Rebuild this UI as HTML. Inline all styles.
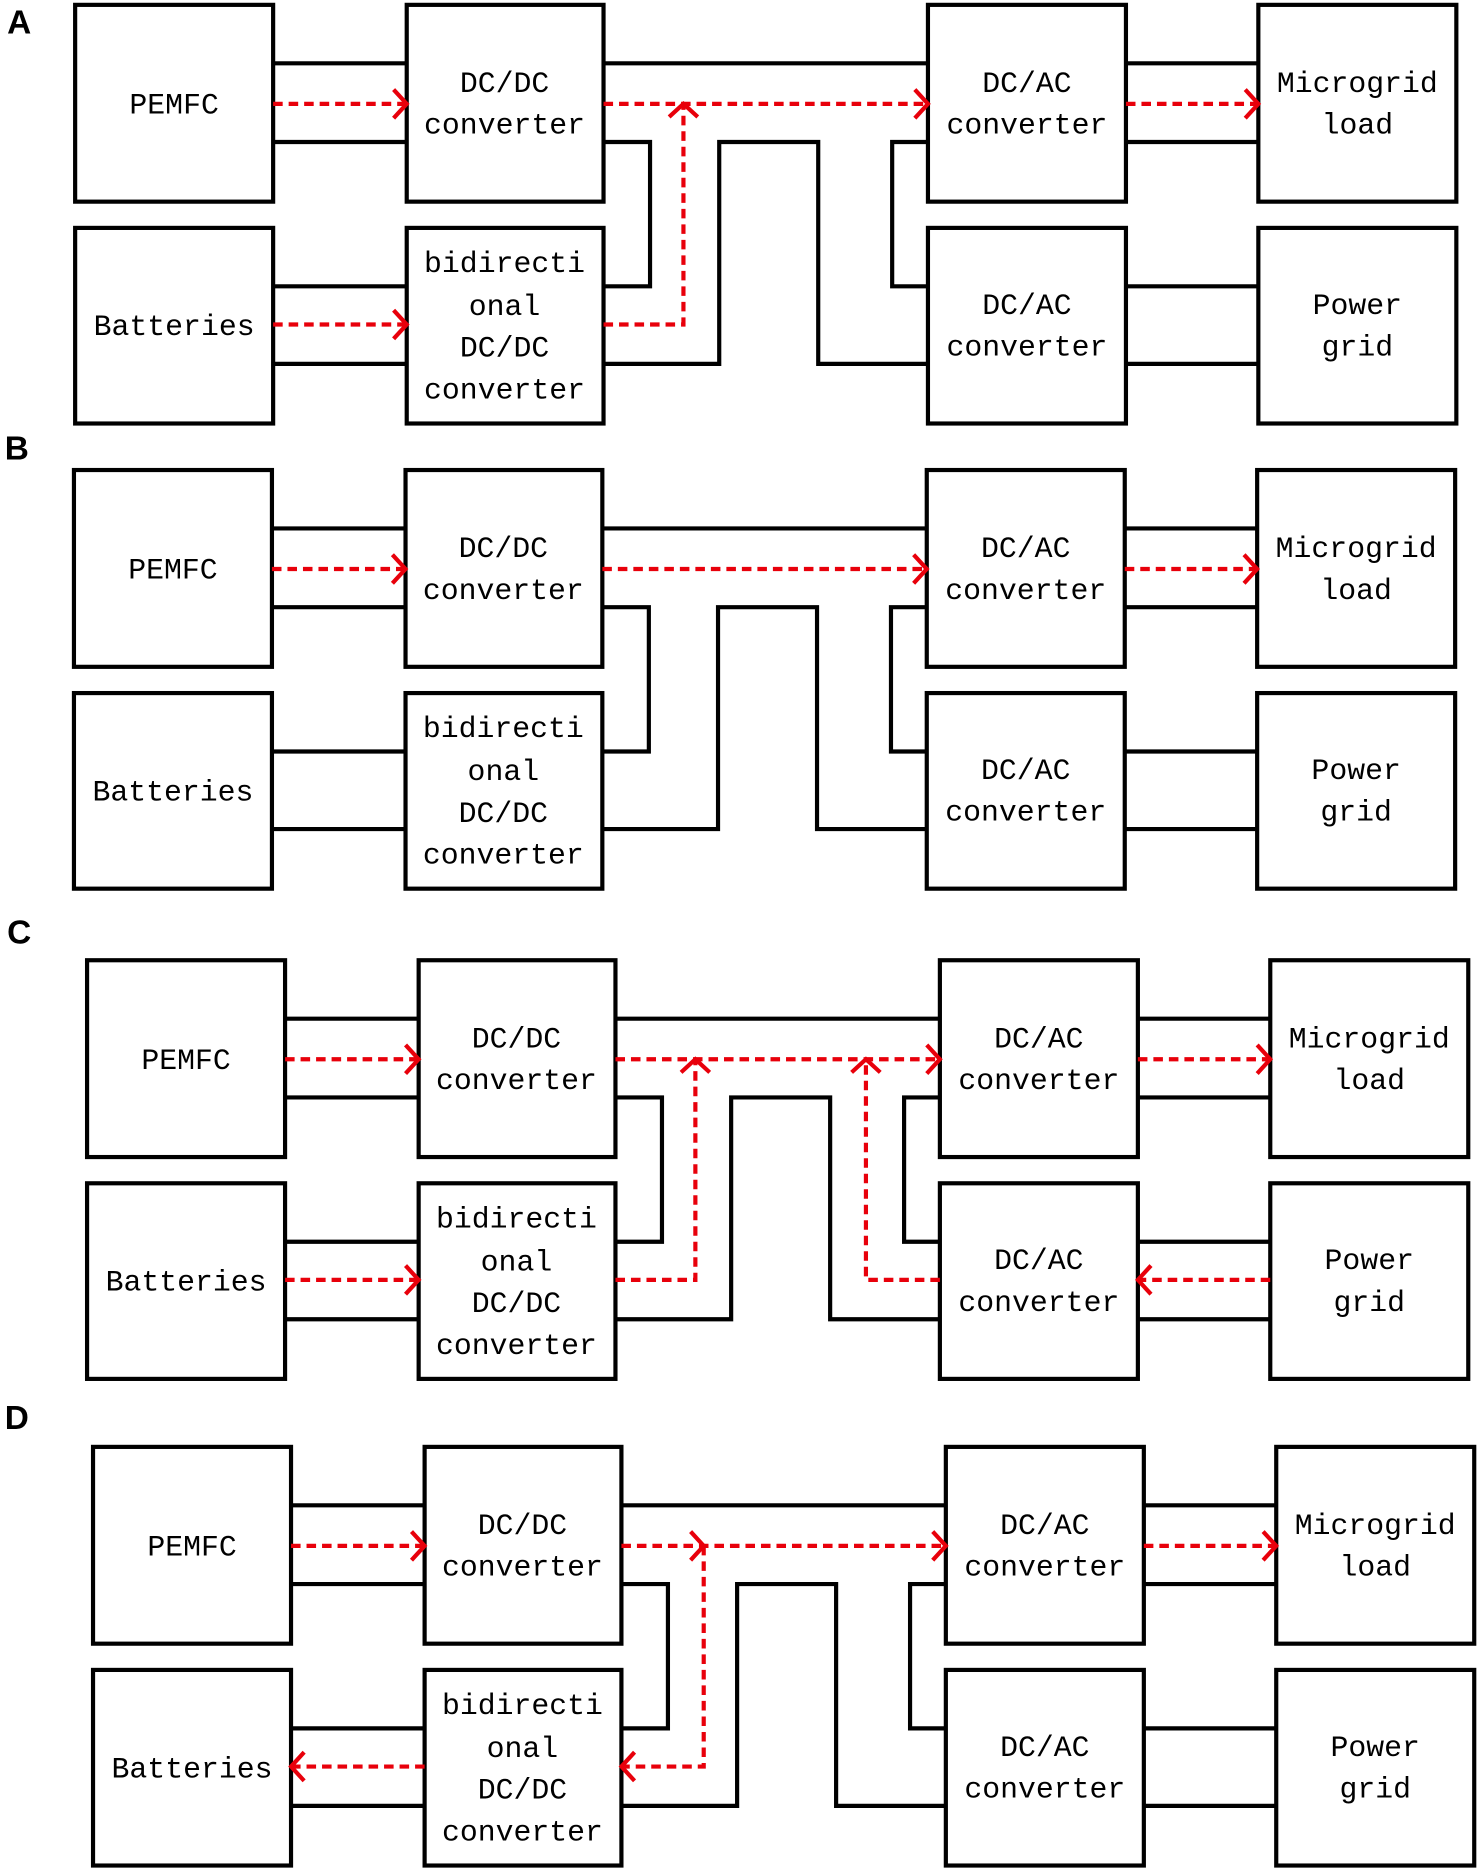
<!DOCTYPE html>
<html><head><meta charset="utf-8"><style>
html,body{margin:0;padding:0;background:#fff;}
svg{display:block;}
.b{fill:#fff;stroke:#000;stroke-width:3.5;}
.l{fill:none;stroke:#000;stroke-width:3.5;}
.r{fill:none;stroke:#e8000b;stroke-width:3.5;stroke-dasharray:8 5;}
.h{fill:none;stroke:#e8000b;stroke-width:3.5;}
text{font-family:"Liberation Mono","Noto Serif CJK SC",monospace;font-size:25px;text-anchor:middle;fill:#000;}
.lab{font-family:"Liberation Sans",sans-serif;font-weight:bold;font-size:28px;text-anchor:start;}
</style></head><body>
<svg width="1479" height="1868" viewBox="0 0 1240 1566" xmlns="http://www.w3.org/2000/svg">
<text class="lab" x="6" y="28">A</text>
<text class="lab" x="4" y="385">B</text>
<text class="lab" x="6" y="791">C</text>
<text class="lab" x="4" y="1198">D</text>

<!-- Panel A -->
<g transform="translate(0,0)">
<path class="l" d="M229,53H341M229,119H341M229,240H341M229,305H341M506,53H778M506,119H545V240H506M506,305H603V119H686V305H778M778,119H748V240H778M944,53H1055M944,119H1055M944,240H1055M944,305H1055"/>
<rect class="b" x="63" y="4" width="166" height="165"/><rect class="b" x="341" y="4" width="165" height="165"/><rect class="b" x="778" y="4" width="166" height="165"/><rect class="b" x="1055" y="4" width="166" height="165"/>
<rect class="b" x="63" y="191" width="166" height="164"/><rect class="b" x="341" y="191" width="165" height="164"/><rect class="b" x="778" y="191" width="166" height="164"/><rect class="b" x="1055" y="191" width="166" height="164"/>
<text x="146" y="95">PEMFC</text><text x="423" y="77">DC/DC</text><text x="423" y="112">converter</text>
<text x="861" y="77">DC/AC</text><text x="861" y="112">converter</text><text x="1138" y="77">Microgrid</text><text x="1138" y="112">load</text>
<text x="146" y="281">Batteries</text><text x="423" y="228">bidirecti</text><text x="423" y="264">onal</text><text x="423" y="299">DC/DC</text><text x="423" y="334">converter</text>
<text x="861" y="263">DC/AC</text><text x="861" y="298">converter</text><text x="1138" y="263">Power</text><text x="1138" y="298">grid</text>
<path class="r" d="M229,87H339M506,87H776M944,87H1053M229,272H339M506,272H573V89"/>
<path class="h" d="M330,75L341,87L330,99M767,75L778,87L767,99M1044,75L1055,87L1044,99M330,260L341,272L330,284M561,98L573,87L585,98"/>
</g>

<!-- Panel B -->
<g transform="translate(-1,390)">
<path class="l" d="M229,53H341M229,119H341M229,240H341M229,305H341M506,53H778M506,119H545V240H506M506,305H603V119H686V305H778M778,119H748V240H778M944,53H1055M944,119H1055M944,240H1055M944,305H1055"/>
<rect class="b" x="63" y="4" width="166" height="165"/><rect class="b" x="341" y="4" width="165" height="165"/><rect class="b" x="778" y="4" width="166" height="165"/><rect class="b" x="1055" y="4" width="166" height="165"/>
<rect class="b" x="63" y="191" width="166" height="164"/><rect class="b" x="341" y="191" width="165" height="164"/><rect class="b" x="778" y="191" width="166" height="164"/><rect class="b" x="1055" y="191" width="166" height="164"/>
<text x="146" y="95">PEMFC</text><text x="423" y="77">DC/DC</text><text x="423" y="112">converter</text>
<text x="861" y="77">DC/AC</text><text x="861" y="112">converter</text><text x="1138" y="77">Microgrid</text><text x="1138" y="112">load</text>
<text x="146" y="281">Batteries</text><text x="423" y="228">bidirecti</text><text x="423" y="264">onal</text><text x="423" y="299">DC/DC</text><text x="423" y="334">converter</text>
<text x="861" y="263">DC/AC</text><text x="861" y="298">converter</text><text x="1138" y="263">Power</text><text x="1138" y="298">grid</text>
<path class="r" d="M229,87H339M506,87H776M944,87H1053"/>
<path class="h" d="M330,75L341,87L330,99M767,75L778,87L767,99M1044,75L1055,87L1044,99"/>
</g>

<!-- Panel C -->
<g transform="translate(10,801)">
<path class="l" d="M229,53H341M229,119H341M229,240H341M229,305H341M506,53H778M506,119H545V240H506M506,305H603V119H686V305H778M778,119H748V240H778M944,53H1055M944,119H1055M944,240H1055M944,305H1055"/>
<rect class="b" x="63" y="4" width="166" height="165"/><rect class="b" x="341" y="4" width="165" height="165"/><rect class="b" x="778" y="4" width="166" height="165"/><rect class="b" x="1055" y="4" width="166" height="165"/>
<rect class="b" x="63" y="191" width="166" height="164"/><rect class="b" x="341" y="191" width="165" height="164"/><rect class="b" x="778" y="191" width="166" height="164"/><rect class="b" x="1055" y="191" width="166" height="164"/>
<text x="146" y="95">PEMFC</text><text x="423" y="77">DC/DC</text><text x="423" y="112">converter</text>
<text x="861" y="77">DC/AC</text><text x="861" y="112">converter</text><text x="1138" y="77">Microgrid</text><text x="1138" y="112">load</text>
<text x="146" y="281">Batteries</text><text x="423" y="228">bidirecti</text><text x="423" y="264">onal</text><text x="423" y="299">DC/DC</text><text x="423" y="334">converter</text>
<text x="861" y="263">DC/AC</text><text x="861" y="298">converter</text><text x="1138" y="263">Power</text><text x="1138" y="298">grid</text>
<path class="r" d="M229,87H339M506,87H776M944,87H1053M229,272H339M506,272H573V89M778,272H716V89M1055,272H946"/>
<path class="h" d="M330,75L341,87L330,99M767,75L778,87L767,99M1044,75L1055,87L1044,99M330,260L341,272L330,284M561,98L573,87L585,98M704,98L716,87L728,98M955,260L944,272L955,284"/>
</g>

<!-- Panel D -->
<g transform="translate(15,1209)">
<path class="l" d="M229,53H341M229,119H341M229,240H341M229,305H341M506,53H778M506,119H545V240H506M506,305H603V119H686V305H778M778,119H748V240H778M944,53H1055M944,119H1055M944,240H1055M944,305H1055"/>
<rect class="b" x="63" y="4" width="166" height="165"/><rect class="b" x="341" y="4" width="165" height="165"/><rect class="b" x="778" y="4" width="166" height="165"/><rect class="b" x="1055" y="4" width="166" height="165"/>
<rect class="b" x="63" y="191" width="166" height="164"/><rect class="b" x="341" y="191" width="165" height="164"/><rect class="b" x="778" y="191" width="166" height="164"/><rect class="b" x="1055" y="191" width="166" height="164"/>
<text x="146" y="95">PEMFC</text><text x="423" y="77">DC/DC</text><text x="423" y="112">converter</text>
<text x="861" y="77">DC/AC</text><text x="861" y="112">converter</text><text x="1138" y="77">Microgrid</text><text x="1138" y="112">load</text>
<text x="146" y="281">Batteries</text><text x="423" y="228">bidirecti</text><text x="423" y="264">onal</text><text x="423" y="299">DC/DC</text><text x="423" y="334">converter</text>
<text x="861" y="263">DC/AC</text><text x="861" y="298">converter</text><text x="1138" y="263">Power</text><text x="1138" y="298">grid</text>
<path class="r" d="M229,87H339M506,87H776M944,87H1053M575,87V272H508M341,272H231"/>
<path class="h" d="M330,75L341,87L330,99M767,75L778,87L767,99M1044,75L1055,87L1044,99M564,75L575,87L564,99M517,260L506,272L517,284M240,260L229,272L240,284"/>
</g>
</svg>
</body></html>
